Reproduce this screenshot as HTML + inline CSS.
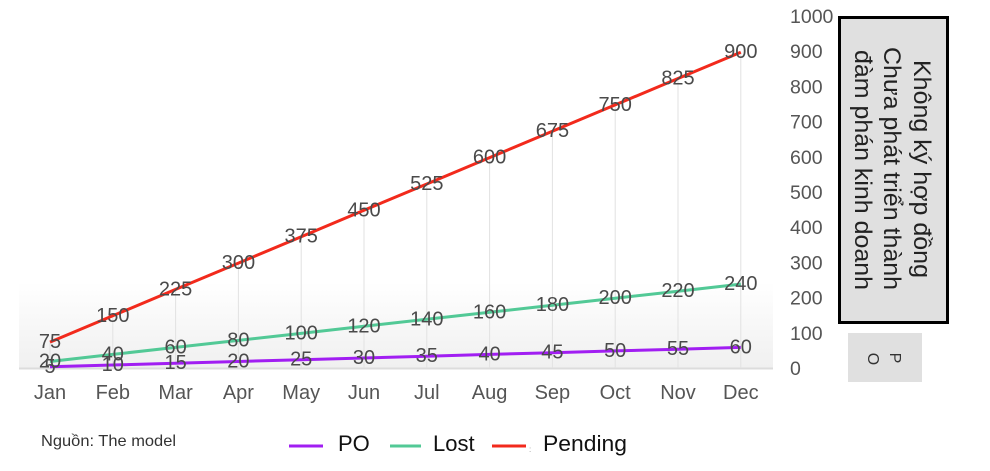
<!DOCTYPE html>
<html><head><meta charset="utf-8"><style>
html,body{margin:0;padding:0;background:#fff;}
svg{display:block;}
text{font-family:"Liberation Sans",Arial,sans-serif;}
</style></head><body>
<svg width="990" height="471" viewBox="0 0 990 471" xmlns="http://www.w3.org/2000/svg">
<defs>
<linearGradient id="bg" x1="0" y1="0" x2="0" y2="1">
<stop offset="0" stop-color="#ffffff"/>
<stop offset="1" stop-color="#f0f0f0"/>
</linearGradient>
</defs>
<rect x="19" y="282" width="754" height="86" fill="url(#bg)"/>
<line x1="19" y1="368.5" x2="773" y2="368.5" stroke="#dcdcdc" stroke-width="2"/>
<g stroke="#e2e2e2" stroke-width="1">
<line x1="50" y1="342" x2="50" y2="368"/>
<line x1="112.8" y1="316" x2="112.8" y2="368"/>
<line x1="175.6" y1="289" x2="175.6" y2="368"/>
<line x1="238.4" y1="263" x2="238.4" y2="368"/>
<line x1="301.2" y1="237" x2="301.2" y2="368"/>
<line x1="364" y1="210" x2="364" y2="368"/>
<line x1="426.8" y1="184" x2="426.8" y2="368"/>
<line x1="489.6" y1="158" x2="489.6" y2="368"/>
<line x1="552.4" y1="131" x2="552.4" y2="368"/>
<line x1="615.2" y1="105" x2="615.2" y2="368"/>
<line x1="678" y1="79" x2="678" y2="368"/>
<line x1="740.8" y1="52" x2="740.8" y2="368"/>
</g>
<polyline fill="none" stroke="#a11ef2" stroke-width="3" points="50,366.7 112.8,365 175.6,363.2 238.4,361.5 301.2,359.7 364,358 426.8,356.2 489.6,354.4 552.4,352.7 615.2,350.9 678,349.2 740.8,347.4"/>
<polyline fill="none" stroke="#52c996" stroke-width="3" points="50,361.5 112.8,354.4 175.6,347.4 238.4,340.4 301.2,333.4 364,326.3 426.8,319.3 489.6,312.3 552.4,305.2 615.2,298.2 678,291.2 740.8,284.1"/>
<polyline fill="none" stroke="#f22a1c" stroke-width="3" points="50,342.1 112.8,315.8 175.6,289.4 238.4,263.1 301.2,236.7 364,210.3 426.8,184 489.6,157.6 552.4,131.2 615.2,104.9 678,78.5 740.8,52.2"/>
<g font-size="20" fill="#4a4a4a" text-anchor="middle" dominant-baseline="central">
<text x="50" y="367">5</text><text x="112.8" y="365">10</text><text x="175.6" y="363">15</text><text x="238.4" y="361.5">20</text><text x="301.2" y="359.7">25</text><text x="364" y="358">30</text><text x="426.8" y="356.2">35</text><text x="489.6" y="354.4">40</text><text x="552.4" y="352.7">45</text><text x="615.2" y="350.9">50</text><text x="678" y="349.2">55</text><text x="740.8" y="347.4">60</text>
<text x="50" y="361.5">20</text><text x="112.8" y="354.4">40</text><text x="175.6" y="347.4">60</text><text x="238.4" y="340.4">80</text><text x="301.2" y="333.4">100</text><text x="364" y="326.3">120</text><text x="426.8" y="319.3">140</text><text x="489.6" y="312.3">160</text><text x="552.4" y="305.2">180</text><text x="615.2" y="298.2">200</text><text x="678" y="291.2">220</text><text x="740.8" y="284.1">240</text>
<text x="50" y="342.1">75</text><text x="112.8" y="315.8">150</text><text x="175.6" y="289.4">225</text><text x="238.4" y="263.1">300</text><text x="301.2" y="236.7">375</text><text x="364" y="210.3">450</text><text x="426.8" y="184">525</text><text x="489.6" y="157.6">600</text><text x="552.4" y="131.2">675</text><text x="615.2" y="104.9">750</text><text x="678" y="78.5">825</text><text x="740.8" y="52.2">900</text>
</g>
<g font-size="20" fill="#555" text-anchor="middle" dominant-baseline="central">
<text x="50" y="393">Jan</text><text x="112.8" y="393">Feb</text><text x="175.6" y="393">Mar</text><text x="238.4" y="393">Apr</text><text x="301.2" y="393">May</text><text x="364" y="393">Jun</text><text x="426.8" y="393">Jul</text><text x="489.6" y="393">Aug</text><text x="552.4" y="393">Sep</text><text x="615.2" y="393">Oct</text><text x="678" y="393">Nov</text><text x="740.8" y="393">Dec</text>
</g>
<g font-size="19.5" fill="#555" dominant-baseline="central">
<text x="790" y="17">1000</text><text x="790" y="52">900</text><text x="790" y="87.5">800</text><text x="790" y="122.5">700</text><text x="790" y="158">600</text><text x="790" y="193">500</text><text x="790" y="228">400</text><text x="790" y="263.5">300</text><text x="790" y="298.5">200</text><text x="790" y="334">100</text><text x="790" y="369">0</text>
</g>
<rect x="839.5" y="17.5" width="108" height="305" fill="#e0e0e0" stroke="#000" stroke-width="3"/>
<g font-size="24" fill="#222" text-anchor="middle">
<text transform="translate(914,169) rotate(90)" textLength="218" lengthAdjust="spacingAndGlyphs">Không ký hợp đồng</text>
<text transform="translate(884,168.5) rotate(90)" textLength="243" lengthAdjust="spacingAndGlyphs">Chưa phát triển thành</text>
<text transform="translate(855,170) rotate(90)" textLength="240" lengthAdjust="spacingAndGlyphs">đàm phán kinh doanh</text>
</g>
<rect x="848" y="333" width="74" height="49" fill="#e0e0e0"/>
<g font-size="16" fill="#333" text-anchor="middle">
<text transform="translate(890,358) rotate(90)">P</text>
<text transform="translate(868,359) rotate(90)">O</text>
</g>
<text x="41" y="446" font-size="16" fill="#333" textLength="135" lengthAdjust="spacingAndGlyphs">Nguồn: The model</text>
<line x1="289" y1="446" x2="323" y2="446" stroke="#a11ef2" stroke-width="3"/>
<line x1="390" y1="446" x2="421" y2="446" stroke="#52c996" stroke-width="3"/>
<line x1="492" y1="446" x2="526" y2="446" stroke="#f22a1c" stroke-width="3"/>
<text x="529" y="452" font-size="8" fill="#999">:</text>
<g font-size="22" fill="#111">
<text x="338" y="451">PO</text>
<text x="433" y="451">Lost</text>
<text x="543" y="451" textLength="84" lengthAdjust="spacingAndGlyphs">Pending</text>
</g>
</svg>
</body></html>
